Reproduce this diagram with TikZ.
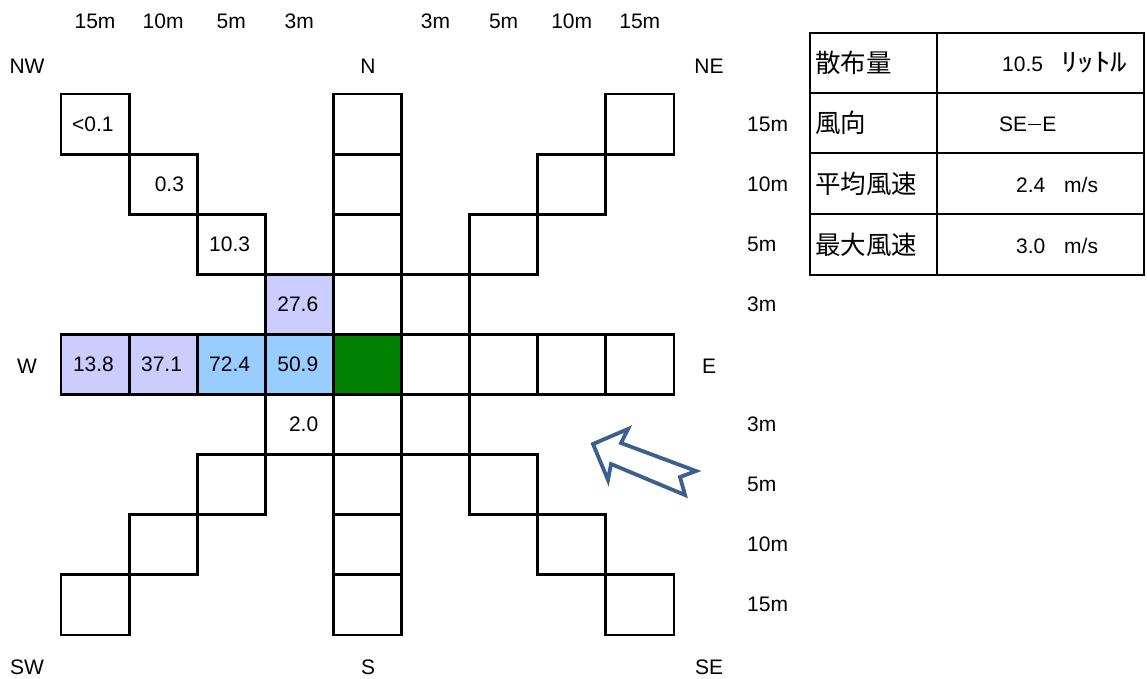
\documentclass[tikz,border=0pt]{standalone}
\usepackage{fontspec}
\setmainfont{Liberation Sans}
\newfontfamily\jp{Noto Sans CJK JP}
\definecolor{lav}{HTML}{CCCCFF}
\definecolor{sky}{HTML}{99CCFF}
\definecolor{ctr}{HTML}{008000}
\definecolor{arrowblue}{HTML}{3B5F8F}
\begin{document}
\begin{tikzpicture}[x=1pt,y=-1pt,
  cell/.style={draw=black, line width=2.8pt, minimum width=68.1pt, minimum height=60.1pt, inner sep=0pt, outer sep=0pt, anchor=north west, fill=white},
  lbl/.style={font=\fontsize{21}{24}\selectfont, inner sep=0pt},
  jpl/.style={font=\jp\fontsize{25.5}{28}\selectfont, inner sep=0pt},
  windarrow/.style={draw=arrowblue, line width=3.8pt, fill=white, line join=miter},
  tline/.style={line width=2.8pt}
]
\useasboundingbox (0,0) rectangle (1147,678);
\fill[white] (0,0) rectangle (1147,678);

% cells of the grid
\foreach \i/\j in {0/4,1/4,2/4,3/4,5/4,6/4,7/4,8/4,
  4/0,4/1,4/2,4/3,4/5,4/6,4/7,4/8,
  0/0,1/1,2/2,3/3,8/0,7/1,6/2,5/3,5/5,6/6,7/7,8/8,3/5,2/6,1/7,0/8}
  \node[cell] (c-\i-\j) at ({61+68.1*\i},{94+60.1*\j}) {};
\node[cell, fill=lav] (c-0-4b) at (c-0-4.north west) {};
\node[cell, fill=lav] (c-1-4b) at (c-1-4.north west) {};
\node[cell, fill=lav] (c-3-3b) at (c-3-3.north west) {};
\node[cell, fill=sky] (c-2-4b) at (c-2-4.north west) {};
\node[cell, fill=sky] (c-3-4b) at (c-3-4.north west) {};
\node[cell, fill=ctr] (c-4-4) at ({61+68.1*4},{94+60.1*4}) {};

% values
\node[lbl, anchor=west] (v00) at ([xshift=11pt]c-0-0.west) {<0.1};
\node[lbl, anchor=east] (v11) at ([xshift=-13pt]c-1-1.east) {0.3};
\node[lbl, anchor=east] (v22) at ([xshift=-15pt]c-2-2.east) {10.3};
\node[lbl, anchor=east] (v33) at ([xshift=-15pt]c-3-3.east) {27.6};
\node[lbl, anchor=east] (v04) at ([xshift=-15pt]c-0-4.east) {13.8};
\node[lbl, anchor=east] (v14) at ([xshift=-15pt]c-1-4.east) {37.1};
\node[lbl, anchor=east] (v24) at ([xshift=-15pt]c-2-4.east) {72.4};
\node[lbl, anchor=east] (v34) at ([xshift=-15pt]c-3-4.east) {50.9};
\node[lbl, anchor=east] (v35) at ([xshift=-15pt]c-3-5.east) {2.0};

% distance labels on top
\foreach \i/\t in {0/15m,1/10m,2/5m,3/3m,5/3m,6/5m,7/10m,8/15m}
  \node[lbl] (top-\i) at ({61+68.1*\i+34},21) {\t};
% distance labels on right
\foreach \j/\t in {0/15m,1/10m,2/5m,3/3m,5/3m,6/5m,7/10m,8/15m}
  \node[lbl, anchor=west] (rt-\j) at (747,{94+60.1*\j+30}) {\t};

% compass labels
\node[lbl] (nw) at (27,66) {NW};
\node[lbl] (n) at (368,66) {N};
\node[lbl] (ne) at (709,66) {NE};
\node[lbl] (w) at (27,366) {W};
\node[lbl] (e) at (709,366) {E};
\node[lbl] (sw) at (27,667) {SW};
\node[lbl] (s) at (368,667) {S};
\node[lbl] (se) at (709,667) {SE};

% wind arrow
\draw[windarrow] (593,444) -- (628,429) -- (621,443) -- (696,471) -- (680,477)
  -- (685,495) -- (611,464) -- (608,480) -- cycle;

% table
\foreach \r/\ya/\yb in {0/33/93,1/93/153,2/153/214,3/214/275}{
  \draw[tline] (810,\ya) rectangle (937,\yb);
  \draw[tline] (937,\ya) rectangle (1144,\yb);
}
\node[jpl, anchor=west] (k0) at (815,63) {散布量};
\node[jpl, anchor=west] (k1) at (815,123) {風向};
\node[jpl, anchor=west] (k2) at (815,184) {平均風速};
\node[jpl, anchor=west] (k3) at (815,245) {最大風速};
\node[lbl, anchor=west] (a0) at (1002,64) {10.5};
\node[jpl, anchor=west] (u0) at (1061,63) {\scalebox{1.3}[1]{ﾘｯﾄﾙ}};
\node[lbl, anchor=west] (a1) at (999,124) {SE{\kern1pt\rule[0.3em]{0.62em}{1.3pt}\kern1pt}E};
\node[lbl, anchor=west] (a2) at (1016,185) {2.4};
\node[lbl, anchor=west] (u2) at (1064,185) {m/s};
\node[lbl, anchor=west] (a3) at (1016,246) {3.0};
\node[lbl, anchor=west] (u3) at (1064,246) {m/s};
\end{tikzpicture}
\end{document}
